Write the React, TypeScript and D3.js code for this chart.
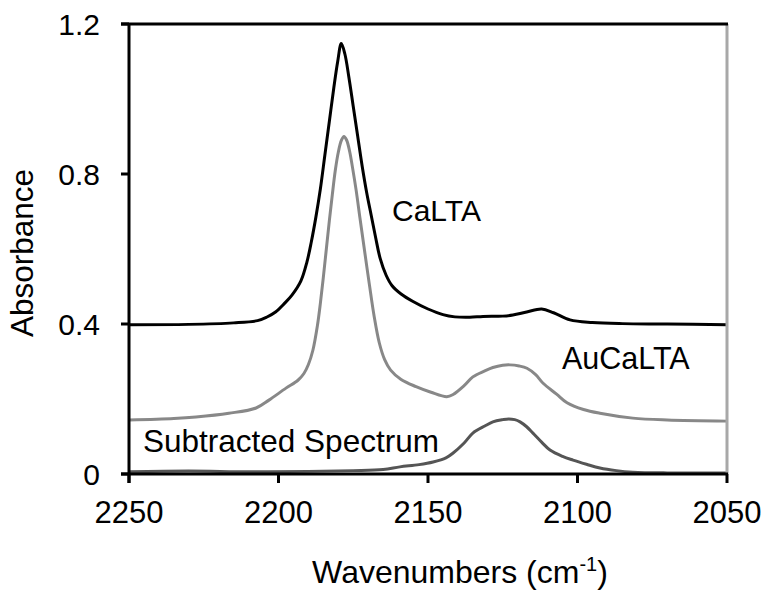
import React from "react";
import * as d3 from "d3";

const caltaWn = [2250, 2230, 2215, 2207, 2204, 2201, 2198, 2195.5, 2192.5, 2190.5, 2189, 2187.5, 2186, 2184.5, 2183, 2181.5, 2180.2, 2179, 2177.8, 2176.5, 2175, 2173.5, 2172, 2170.5, 2169, 2167.5, 2166, 2164, 2162, 2159, 2155, 2150, 2145, 2141, 2136, 2131.6, 2125, 2121.6, 2117, 2112, 2108, 2102.5, 2095, 2085, 2070, 2050];
const caltaAbs = [0.398, 0.399, 0.403, 0.409, 0.418, 0.432, 0.455, 0.477, 0.515, 0.565, 0.62, 0.685, 0.76, 0.85, 0.94, 1.03, 1.1, 1.148, 1.12, 1.06, 0.98, 0.9, 0.82, 0.75, 0.69, 0.63, 0.575, 0.53, 0.502, 0.48, 0.46, 0.44, 0.425, 0.419, 0.418, 0.42, 0.421, 0.424, 0.432, 0.44, 0.43, 0.411, 0.404, 0.401, 0.4, 0.398];

const aucaltaWn = [2250, 2235, 2227.6, 2216.6, 2207.5, 2203.2, 2197.5, 2193.5, 2191.5, 2190, 2188.5, 2187, 2186, 2185, 2184, 2183, 2182, 2181, 2180, 2179, 2178.1, 2177.2, 2176.2, 2175.2, 2174, 2172.8, 2171.3, 2169.6, 2168, 2166.3, 2164.5, 2162.5, 2159, 2154, 2149, 2143.7, 2141.6, 2138, 2135, 2131, 2128.3, 2125, 2122.6, 2119.5, 2116.9, 2114, 2111.5, 2107, 2103.5, 2098, 2092.5, 2081.5, 2070, 2050];
const aucaltaAbs = [0.144, 0.148, 0.152, 0.162, 0.176, 0.197, 0.229, 0.25, 0.268, 0.292, 0.33, 0.395, 0.455, 0.525, 0.6, 0.675, 0.745, 0.81, 0.858, 0.889, 0.9, 0.89, 0.86, 0.815, 0.755, 0.685, 0.6, 0.505, 0.42, 0.35, 0.305, 0.277, 0.252, 0.233, 0.218, 0.206, 0.212, 0.235, 0.259, 0.275, 0.284, 0.29, 0.291, 0.288, 0.282, 0.265, 0.242, 0.213, 0.19, 0.172, 0.162, 0.149, 0.144, 0.141];

const subWn = [2250, 2230, 2210, 2190, 2175, 2165, 2159.4, 2153, 2148.3, 2144, 2141.6, 2138, 2135, 2131, 2128.3, 2125, 2123, 2121, 2119.2, 2117, 2114.9, 2112, 2109.2, 2105, 2101.5, 2097, 2092.5, 2087, 2081.5, 2070, 2050];
const subAbs = [0.006, 0.008, 0.006, 0.007, 0.009, 0.012, 0.019, 0.025, 0.032, 0.043, 0.056, 0.082, 0.109, 0.128, 0.139, 0.145, 0.147, 0.145, 0.139, 0.126, 0.109, 0.085, 0.064, 0.047, 0.037, 0.026, 0.016, 0.009, 0.005, 0.003, 0.003];

const xTicks = [2250, 2200, 2150, 2100, 2050];
const yTicks = [0, 0.4, 0.8, 1.2];
const yTickLabels = ["0", "0.4", "0.8", "1.2"];

const W = 765, H = 594;
const L = 129, R = 727, T = 24, B = 474;
const FONT = "'Liberation Sans', Arial, sans-serif";

export default function App() {
  const x = d3.scaleLinear().domain([2250, 2050]).range([L, R]);
  const y = d3.scaleLinear().domain([0, 1.2]).range([B, T]);
  const line = d3
    .line<[number, number]>()
    .x((d) => x(d[0]))
    .y((d) => y(d[1]))
    .curve(d3.curveCatmullRom.alpha(0.5));
  const mk = (wn: number[], ab: number[]) => line(wn.map((w, i) => [w, ab[i]] as [number, number])) || "";

  return (
    <svg width={W} height={H} style={{ position: "absolute", left: 0, top: 0, background: "#fff" }} fontFamily={FONT}>
      <rect x={0} y={0} width={W} height={H} fill="#fff" />
      {/* series */}
      <path d={mk(subWn, subAbs)} fill="none" stroke="#555" strokeWidth={3} strokeLinejoin="round" />
      <path d={mk(aucaltaWn, aucaltaAbs)} fill="none" stroke="#888" strokeWidth={3} strokeLinejoin="round" />
      <path d={mk(caltaWn, caltaAbs)} fill="none" stroke="#000" strokeWidth={3} strokeLinejoin="round" />
      {/* frame */}
      <line x1={R} x2={R} y1={T} y2={B} stroke="#a8a8a8" strokeWidth={3} />
      <line x1={L - 8} x2={R + 1} y1={T} y2={T} stroke="#000" strokeWidth={3} />
      <line x1={L} x2={L} y1={T - 1} y2={B + 9} stroke="#000" strokeWidth={3} />
      <line x1={L - 8} x2={R + 1} y1={B} y2={B} stroke="#000" strokeWidth={3} />
      {yTicks.map((t, i) => (
        <g key={"y" + i}>
          <line x1={L - 8} x2={L} y1={y(t)} y2={y(t)} stroke="#000" strokeWidth={3} />
          <text x={100} y={y(t)} dy="0.36em" textAnchor="end" fontSize={30} fill="#000">
            {yTickLabels[i]}
          </text>
        </g>
      ))}
      {xTicks.map((t, i) => (
        <g key={"x" + i}>
          <line x1={x(t)} x2={x(t)} y1={B} y2={B + 9} stroke="#000" strokeWidth={3} />
          <text x={x(t)} y={523} textAnchor="middle" fontSize={31} fill="#000">
            {t}
          </text>
        </g>
      ))}
      {/* annotations */}
      <text x={392} y={221} fontSize={30} fill="#000">CaLTA</text>
      <text x={562} y={369} fontSize={30.5} fill="#000">AuCaLTA</text>
      <text x={143} y={452} fontSize={31.5} fill="#000">Subtracted Spectrum</text>
      {/* axis titles */}
      <text x={460} y={583} textAnchor="middle" fontSize={32} fill="#000">
        Wavenumbers (cm<tspan dy={-12} fontSize={20}>-1</tspan><tspan dy={12}>)</tspan>
      </text>
      <text transform="translate(33,253) rotate(-90)" textAnchor="middle" fontSize={31.5} fill="#000">
        Absorbance
      </text>
    </svg>
  );
}
